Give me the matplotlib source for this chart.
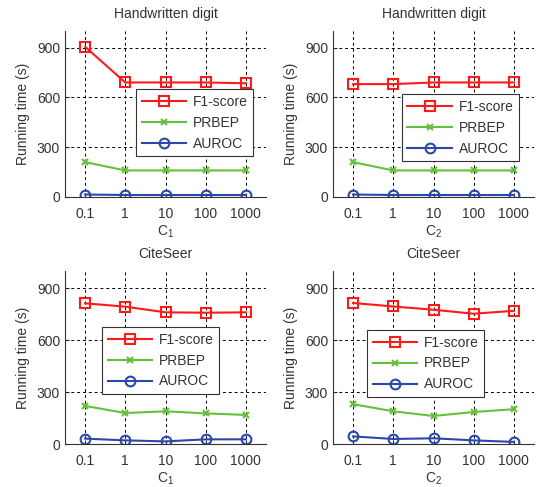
import numpy as np
from matplotlib import pyplot as plt

plt.rcParams['font.family'] = ['Liberation Sans', 'DejaVu Sans']
plt.rcParams['font.size'] = 10
plt.rcParams['mathtext.fontset'] = 'custom'
plt.rcParams['mathtext.rm'] = 'Liberation Sans'
plt.rcParams['mathtext.it'] = 'Liberation Sans'

c_values = [0.1, 1, 10, 100, 1000]
c_labels = ['0.1', '1', '10', '100', '1000']
series_names = ['F1-score', 'PRBEP', 'AUROC']

# running time (s) per panel
hw_c1_f1 = [905, 690, 690, 690, 685]
hw_c1_prbep = [210, 160, 160, 160, 160]
hw_c1_auroc = [15, 12, 12, 12, 12]

hw_c2_f1 = [680, 680, 690, 690, 690]
hw_c2_prbep = [210, 160, 160, 160, 160]
hw_c2_auroc = [15, 12, 12, 12, 12]

cs_c1_f1 = [813, 794, 761, 759, 761]
cs_c1_prbep = [220, 179, 189, 177, 168]
cs_c1_auroc = [31, 21, 15, 27, 27]

cs_c2_f1 = [815, 795, 776, 753, 770]
cs_c2_prbep = [230, 189, 162, 185, 201]
cs_c2_auroc = [44, 29, 33, 21, 12]

colors = ['#ff1a1a', '#66c03c', '#2c48a8']
markers = ['s', 'x', 'o']

W, H = 536, 487
fig = plt.figure(figsize=(W / 100, H / 100), dpi=100)

panels = [
    ("Handwritten digit", "C$_1$", (hw_c1_f1, hw_c1_prbep, hw_c1_auroc), (65, 31, 266, 197), (0.353, 0.65)),
    ("Handwritten digit", "C$_2$", (hw_c2_f1, hw_c2_prbep, hw_c2_auroc), (333, 31, 534, 197), (0.343, 0.62)),
    ("CiteSeer", "C$_1$", (cs_c1_f1, cs_c1_prbep, cs_c1_auroc), (65, 271, 266, 444), (0.184, 0.676)),
    ("CiteSeer", "C$_2$", (cs_c2_f1, cs_c2_prbep, cs_c2_auroc), (333, 271, 534, 444), (0.169, 0.659)),
]

for title, xlab, data, (x0, y0, x1, y1), leg_pos in panels:
    ax = fig.add_axes([x0 / W, 1 - y1 / H, (x1 - x0) / W, (y1 - y0) / H])
    for vals, name, col, mk in zip(data, series_names, colors, markers):
        ms = 4 if mk == 'x' else 7
        ax.plot(c_values, vals, color=col, marker=mk, markersize=ms,
                markerfacecolor='none', markeredgewidth=1.5, linewidth=1.5,
                label=name)
    ax.set_xscale('log')
    ax.set_xlim(10 ** -0.5 * 0.1, 10 ** 0.5 * 1000)
    ax.set_ylim(0, 1000)
    ax.set_xticks(c_values)
    ax.set_xticklabels(c_labels)
    ax.minorticks_off()
    ax.set_yticks([0, 300, 600, 900])
    ax.tick_params(direction='in', length=3, colors='#222222', labelcolor='#333333')
    ax.tick_params(axis='x', pad=7)
    ax.grid(True, color='black', linestyle=(0, (3, 3)), linewidth=0.7)
    for s in ['top', 'right']:
        ax.spines[s].set_visible(False)
    ax.spines['left'].set_color('#333333')
    ax.spines['bottom'].set_color('#333333')
    ax.set_title(title, fontsize=10, color='#333333', pad=9)
    ax.set_xlabel(xlab, color='#333333', labelpad=2)
    ax.set_ylabel('Running time (s)', color='#333333', labelpad=5)
    leg = ax.legend(loc='upper left', bbox_to_anchor=leg_pos, fancybox=False,
                    edgecolor='#333333', framealpha=1, handlelength=3.2,
                    borderpad=0.4, labelspacing=0.5, handletextpad=0.5,
                    borderaxespad=0, fontsize=10)
    leg.get_frame().set_linewidth(0.8)
    for t in leg.get_texts():
        t.set_color('#333333')

fig.savefig('out.png', dpi=100)
